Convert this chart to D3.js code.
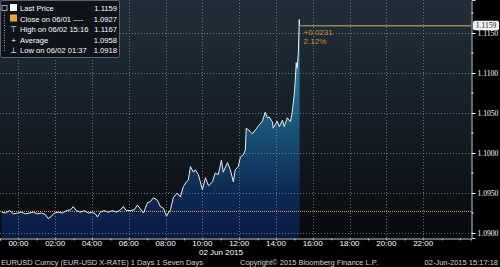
<!DOCTYPE html>
<html>
<head>
<meta charset="utf-8">
<script src="https://cdn.jsdelivr.net/npm/d3@7"></script>
<style>
  body { margin: 0; background: #000; }
  svg { display: block; font-family: "Liberation Sans", Arial, sans-serif; }
</style>
</head>
<body>
<svg id="chart" width="500" height="267"></svg>
<script>
// minutes from 00:00 on 02 Jun 2015 (negative = 01 Jun) and EURUSD price
var minutes = [-55, -42, -29, -16, -3, 10, 23, 36, 49, 62, 75, 88, 97, 108, 117, 130, 143, 157, 170, 179,
  189, 202, 215, 228, 241, 251, 258, 267, 280, 293, 307, 320, 333, 342, 352, 365, 378, 388, 398, 408,
  421, 430, 440, 453, 463, 473, 483, 489, 496, 505, 518, 528, 538, 548, 554, 561, 571, 577, 587, 600,
  610, 620, 633, 642, 652, 662, 668, 682, 691, 701, 707, 717, 724, 734, 740, 743, 750, 763, 773, 783,
  796, 805, 812, 818, 828, 831, 844, 851, 861, 867, 877, 887, 893, 900, 903, 906, 909, 913, 916, 917];
var prices = [1.0926, 1.0925, 1.0928, 1.0924, 1.0925, 1.0926, 1.0924, 1.0925, 1.0926, 1.0924, 1.0925, 1.0923, 1.0918, 1.0921, 1.0925, 1.0926, 1.0925, 1.0928, 1.0929, 1.0933,
  1.0928, 1.0926, 1.0928, 1.0925, 1.0926, 1.0924, 1.0920, 1.0926, 1.0928, 1.0926, 1.0928, 1.0926, 1.0929, 1.0933, 1.0928, 1.0928, 1.0929, 1.0935, 1.0930, 1.0925,
  1.0938, 1.0939, 1.0944, 1.0941, 1.0933, 1.0931, 1.0921, 1.0925, 1.0929, 1.0944, 1.0950, 1.0945, 1.0958, 1.0964, 1.0966, 1.0983, 1.0976, 1.0979, 1.0973, 1.0954,
  1.0969, 1.0959, 1.0964, 1.0975, 1.0973, 1.0991, 1.0976, 1.0988, 1.0979, 1.0964, 1.0979, 1.0983, 1.0995, 1.0998, 1.1004, 1.1031, 1.1029, 1.1024, 1.1029, 1.1034,
  1.1040, 1.1051, 1.1044, 1.1045, 1.1039, 1.1031, 1.1040, 1.1033, 1.1041, 1.1033, 1.1044, 1.1039, 1.1051, 1.1075, 1.1091, 1.1113, 1.1106, 1.1125, 1.1167, 1.1159];

var yTicks = [1.0900, 1.0950, 1.1000, 1.1050, 1.1100, 1.1150];
var xTickHours = [0, 2, 4, 6, 8, 10, 12, 14, 16, 18, 20, 22];
var legendNames = ["Last Price", "Close on 06/01 ----", "High on 06/02 15:16", "Average", "Low on 06/02 01:37"];
var legendValues = ["1.1159", "1.0927", "1.1167", "1.0958", "1.0918"];
var prevClose = 1.0927;
var lastPrice = 1.1159;
var changeLabels = ["+0.0231", "2.12%"];
var footer = ["EURUSD Curncy (EUR-USD X-RATE) 1 Days 1 Seven Days", "Copyright\u00a9 2015 Bloomberg Finance L.P.", "02-Jun-2015 15:17:18"];

var plotW = 471, plotH = 238;
var svg = d3.select("#chart");

function t(m) { return new Date(2015, 5, 2, 0, m); }

var data = minutes.map(function(m, i) { return {date: t(m), price: prices[i]}; });

var x = d3.scaleTime().domain([t(-60), t(1476)]).range([0, plotW]);
var y = d3.scaleLinear().domain([1.089375, 1.119125]).range([plotH, 0]);

var defs = svg.append("defs");
var bg = defs.append("linearGradient").attr("id", "bg").attr("x1", 0).attr("y1", 0).attr("x2", 0).attr("y2", 1);
bg.append("stop").attr("offset", "0%").attr("stop-color", "#212e39");
bg.append("stop").attr("offset", "60%").attr("stop-color", "#131b22");
bg.append("stop").attr("offset", "100%").attr("stop-color", "#06090c");

var af = defs.append("linearGradient").attr("id", "areaFill")
    .attr("gradientUnits", "userSpaceOnUse").attr("x1", 0).attr("y1", 0).attr("x2", 0).attr("y2", plotH);
af.append("stop").attr("offset", "0%").attr("stop-color", "#3aa3cc");
af.append("stop").attr("offset", "50%").attr("stop-color", "#1c5a7c");
af.append("stop").attr("offset", "80%").attr("stop-color", "#0c2a52");
af.append("stop").attr("offset", "100%").attr("stop-color", "#081a44");

// plot background
svg.append("rect").attr("x", 0).attr("y", 0).attr("width", plotW).attr("height", plotH).attr("fill", "url(#bg)");

// area under price
var area = d3.area()
    .x(function(d) { return x(d.date); })
    .y0(plotH)
    .y1(function(d) { return y(d.price); });
svg.append("path").datum(data).attr("d", area).attr("fill", "url(#areaFill)");

// grid
svg.append("g").selectAll("line").data(yTicks).enter().append("line")
    .attr("x1", 0).attr("x2", plotW)
    .attr("y1", function(d) { return Math.round(y(d)) + 0.5; })
    .attr("y2", function(d) { return Math.round(y(d)) + 0.5; })
    .attr("stroke", "#8a96a0").attr("stroke-width", 1).attr("stroke-dasharray", "1,2").attr("opacity", 0.7);
svg.append("g").selectAll("line").data(xTickHours).enter().append("line")
    .attr("x1", function(d) { return Math.round(x(t(d * 60))) + 0.5; })
    .attr("x2", function(d) { return Math.round(x(t(d * 60))) + 0.5; })
    .attr("y1", 0).attr("y2", plotH)
    .attr("stroke", "#8a96a0").attr("stroke-width", 1).attr("stroke-dasharray", "1,2").attr("opacity", 0.7);

// previous close line
svg.append("line")
    .attr("x1", 0).attr("x2", plotW)
    .attr("y1", y(prevClose)).attr("y2", y(prevClose))
    .attr("stroke", "#f0a040").attr("stroke-width", 1).attr("stroke-dasharray", "1,1");

// price line
var line = d3.line()
    .x(function(d) { return x(d.date); })
    .y(function(d) { return y(d.price); });
svg.append("path").datum(data).attr("d", line)
    .attr("fill", "none").attr("stroke", "#e6eef4").attr("stroke-width", 1);

// last price marker line
var lastX = x(data[data.length - 1].date);
svg.append("line")
    .attr("x1", lastX).attr("x2", plotW)
    .attr("y1", y(lastPrice)).attr("y2", y(lastPrice))
    .attr("stroke", "#9c8458").attr("stroke-width", 1.5);
svg.selectAll(".chg").data(changeLabels).enter().append("text")
    .attr("class", "chg")
    .attr("x", lastX + 4)
    .attr("y", function(d, i) { return y(lastPrice) + 9 + i * 9; })
    .attr("fill", "#d8902c").attr("font-size", "8px")
    .text(function(d) { return d; });

// right axis
var yAxis = svg.append("g").attr("transform", "translate(" + (plotW + 0.5) + ",0)")
    .call(d3.axisRight(y).tickValues(yTicks).tickFormat(d3.format(".4f")).tickSize(4).tickPadding(2));
yAxis.select(".domain").attr("stroke", "#d0d0d0");
yAxis.selectAll(".tick line").attr("stroke", "#ffffff");
yAxis.selectAll("text").attr("fill", "#ffffff").attr("font-size", "7.6px")
    .attr("font-family", "'Liberation Serif', serif");
var minor = yTicks.slice(1).map(function(v) { return v - 0.0025; }).concat([yTicks[yTicks.length - 1] + 0.0025]);
yAxis.selectAll(".minor").data(minor).enter().append("line")
    .attr("class", "minor").attr("x1", 0).attr("x2", 2)
    .attr("y1", function(d) { return y(d); }).attr("y2", function(d) { return y(d); })
    .attr("stroke", "#ffffff");

// last price tag
svg.append("rect").attr("x", plotW + 2).attr("y", y(lastPrice) - 5)
    .attr("width", 26).attr("height", 9.5).attr("rx", 2).attr("fill", "#f4f4f4");
svg.append("text").attr("x", plotW + 15).attr("y", y(lastPrice) + 2.5)
    .attr("text-anchor", "middle").attr("font-size", "7.6px").attr("fill", "#111")
    .attr("font-family", "'Liberation Serif', serif")
    .text(d3.format(".4f")(lastPrice));

// bottom axis
var xAxis = svg.append("g").attr("transform", "translate(0," + (plotH + 0.5) + ")")
    .call(d3.axisBottom(x).ticks(d3.timeHour.every(1)).tickSize(2).tickFormat(""));
xAxis.select(".domain").attr("stroke", "#c8c8c8");
xAxis.selectAll(".tick line").attr("stroke", "#c8c8c8");
svg.append("g").selectAll("text").data(xTickHours).enter().append("text")
    .attr("x", function(d) { return x(t(d * 60)); })
    .attr("y", 246)
    .attr("text-anchor", "middle").attr("fill", "#ffffff").attr("font-size", "8px")
    .text(function(d) { return d3.timeFormat("%H:%M")(t(d * 60)); });
svg.append("text").attr("x", 221).attr("y", 255).attr("text-anchor", "middle")
    .attr("fill", "#ffffff").attr("font-size", "8px").text("02 Jun 2015");

// footer
svg.append("text").attr("x", 1).attr("y", 265).attr("fill", "#d0d0d0").attr("font-size", "7.5px").text(footer[0]);
svg.append("text").attr("x", 240).attr("y", 265).attr("fill", "#d0d0d0").attr("font-size", "7.5px").text(footer[1]);
svg.append("text").attr("x", 498).attr("y", 265).attr("text-anchor", "end").attr("fill", "#d0d0d0").attr("font-size", "7.5px").text(footer[2]);

// legend
var lg = svg.append("g");
lg.append("rect").attr("x", 0.5).attr("y", 0.5).attr("width", 119).attr("height", 57).attr("rx", 2)
    .attr("fill", "#0c1116").attr("fill-opacity", 0.9).attr("stroke", "#5a6470");
lg.append("line").attr("x1", 4.5).attr("x2", 4.5).attr("y1", 10).attr("y2", 52)
    .attr("stroke", "#9aa4ae").attr("stroke-dasharray", "1,1.5");
lg.append("rect").attr("x", 2).attr("y", 5.5).attr("width", 5).attr("height", 5).attr("fill", "none").attr("stroke", "#9aa4ae");
lg.append("rect").attr("x", 10).attr("y", 4).attr("width", 7).attr("height", 7).attr("fill", "#ffffff");
lg.append("rect").attr("x", 10).attr("y", 14.5).attr("width", 7).attr("height", 7).attr("fill", "#f0a030");
var sym = ["", "", "\u22a4", "+", "\u22a5"];
lg.selectAll(".sym").data(sym).enter().append("text")
    .attr("class", "sym").attr("x", 13.5).attr("y", function(d, i) { return 11 + i * 10.5; })
    .attr("text-anchor", "middle").attr("fill", "#ffffff").attr("font-size", "8px")
    .text(function(d) { return d; });
lg.selectAll(".nm").data(legendNames).enter().append("text")
    .attr("class", "nm").attr("x", 20).attr("y", function(d, i) { return 11 + i * 10.5; })
    .attr("fill", "#ffffff").attr("font-size", "7.6px")
    .text(function(d) { return d; });
lg.selectAll(".vl").data(legendValues).enter().append("text")
    .attr("class", "vl").attr("x", 117).attr("y", function(d, i) { return 11 + i * 10.5; })
    .attr("text-anchor", "end").attr("fill", "#ffffff").attr("font-size", "7.6px")
    .text(function(d) { return d; });
</script>
</body>
</html>
